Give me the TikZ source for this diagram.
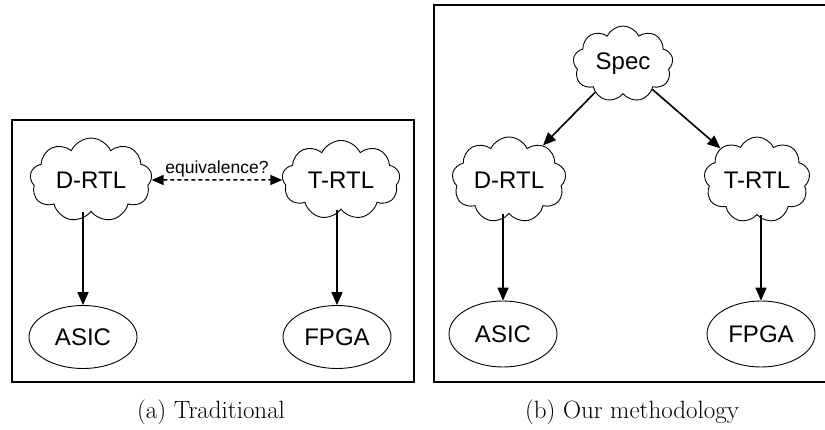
\documentclass[tikz,border=0pt]{standalone}
\usepackage{fontspec}
\newfontfamily\helv{Liberation Sans}
\usetikzlibrary{shapes.symbols,shapes.geometric,arrows.meta}
\begin{document}
\begin{tikzpicture}[x=1pt,y=-1pt,
  frame/.style={draw,line width=1.1pt},
  puff/.style={cloud,draw,cloud puffs=9,cloud puff arc=130,aspect=1.5,
    inner sep=0pt,line width=0.9pt,font=\helv\fontsize{24}{26}\selectfont},
  target/.style={ellipse,draw,inner sep=0pt,line width=0.9pt,
    minimum width=108pt,minimum height=63pt,font=\helv\fontsize{24}{26}\selectfont},
  flow/.style={line width=1.6pt,-{Triangle[length=13pt,width=11pt]}},
  query/.style={line width=1.5pt,dash pattern=on 4pt off 3pt,
    {Triangle[length=12pt,width=10pt]}-{Triangle[length=12pt,width=10pt]}},
  caption/.style={font=\fontsize{25}{30}\selectfont}]
\useasboundingbox (0,0) rectangle (825,430);

% (a) traditional flow
\draw[frame] (12,120) rectangle (414,382);
\node[puff,minimum width=122pt,minimum height=78pt] (drtlA) at (91,180) {D-RTL};
\node[puff,minimum width=118pt,minimum height=78pt] (trtlA) at (341,180) {T-RTL};
\node[target] (asicA) at (83,337) {ASIC};
\node[target] (fpgaA) at (337,337) {FPGA};
\draw[query] (drtlA.east) -- (trtlA.west)
  node[midway,above=-1pt,font=\helv\fontsize{17.5}{20}\selectfont] {equivalence?};
\draw[flow] (drtlA.south -| asicA.north) -- (asicA.north);
\draw[flow] (trtlA.south -| fpgaA.north) -- (fpgaA.north);
\node[caption] (capA) at (211,412) {(a) Traditional};

% (b) proposed flow
\draw[frame] (434,5) rectangle (828,382);
\node[puff,minimum width=100pt,minimum height=76pt] (spec) at (623,64) {Spec};
\node[puff,minimum width=114pt,minimum height=86pt] (drtlB) at (509,180) {D-RTL};
\node[puff,minimum width=106pt,minimum height=86pt] (trtlB) at (757,180) {T-RTL};
\node[target,minimum height=66pt] (asicB) at (503,334) {ASIC};
\node[target,minimum height=66pt] (fpgaB) at (761,334) {FPGA};
\draw[flow] (spec) -- (drtlB);
\draw[flow] (spec) -- (trtlB);
\draw[flow] (drtlB.south -| asicB.north) -- (asicB.north);
\draw[flow] (trtlB.south -| fpgaB.north) -- (fpgaB.north);
\node[caption] (capB) at (632,412) {(b) Our methodology};
\end{tikzpicture}
\end{document}
